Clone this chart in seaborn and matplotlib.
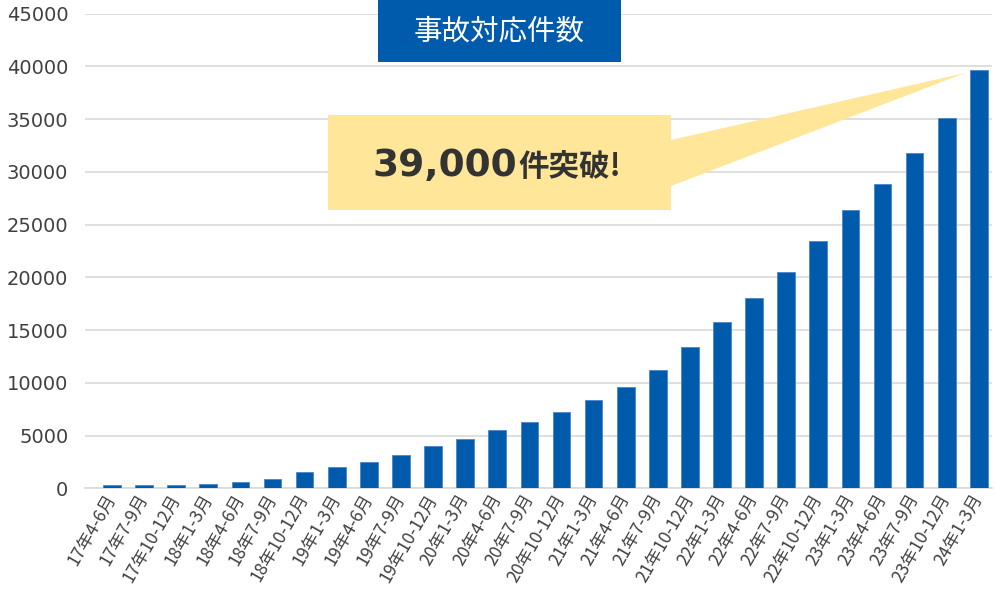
import numpy as np
import pandas as pd
import seaborn as sns
import matplotlib.pyplot as plt
from matplotlib.patches import Rectangle, Polygon

# Data
quarters = ['17年4-6月', '17年7-9月', '17年10-12月',
            '18年1-3月', '18年4-6月', '18年7-9月', '18年10-12月',
            '19年1-3月', '19年4-6月', '19年7-9月', '19年10-12月',
            '20年1-3月', '20年4-6月', '20年7-9月', '20年10-12月',
            '21年1-3月', '21年4-6月', '21年7-9月', '21年10-12月',
            '22年1-3月', '22年4-6月', '22年7-9月', '22年10-12月',
            '23年1-3月', '23年4-6月', '23年7-9月', '23年10-12月',
            '24年1-3月']
counts = [290, 290, 290,
          410, 570, 880, 1520,
          2020, 2470, 3160, 4020,
          4710, 5510, 6270, 7280,
          8390, 9630, 11180, 13430,
          15740, 18020, 20530, 23480,
          26380, 28890, 31770, 35090,
          39650]
y_ticks = [0, 5000, 10000, 15000, 20000, 25000, 30000, 35000, 40000, 45000]
title_text = '事故対応件数'
callout_num = '39,000'
callout_tail = '件突破!'

BLUE = '#005BAC'
YELLOW = '#FFE699'
GRID = '#D9D9D9'
TEXT = '#404040'
JP = ['Noto Sans CJK JP', 'DejaVu Sans']

sns.set_style('white')
plt.rcParams['font.family'] = ['DejaVu Sans', 'Noto Sans CJK JP']

df = pd.DataFrame({'quarter': quarters, 'count': counts})

W, H = 999, 592
fig = plt.figure(figsize=(W / 100, H / 100), dpi=100)
ax = fig.add_axes([85 / W, 1 - 488.3 / H, (991.7 - 85) / W, (488.3 - 13.7) / H])

sns.barplot(data=df, x='quarter', y='count', color=BLUE, saturation=1,
            width=0.55, edgecolor='#4A86C8', linewidth=0.6, ax=ax, zorder=3)

ax.set_xlim(-0.84, 27.4)
ax.set_ylim(0, 45000)
ax.set_yticks(y_ticks)
ax.set_yticklabels([str(v) for v in y_ticks], fontsize=14, color=TEXT,
                   family='DejaVu Sans')
ax.set_xticks(range(len(quarters)))
ax.set_xticklabels(quarters, rotation=60, rotation_mode='anchor',
                   ha='right', va='center', fontsize=12.5, color=TEXT,
                   family=JP)
ax.yaxis.grid(True, color=GRID, linewidth=1.2, zorder=0)
ax.set_axisbelow(True)
ax.tick_params(axis='y', length=0, pad=12)
ax.tick_params(axis='x', length=0, pad=5)
ax.set_xlabel('')
ax.set_ylabel('')
for s in ['top', 'right', 'left']:
    ax.spines[s].set_visible(False)
ax.spines['bottom'].set_color(GRID)
ax.spines['bottom'].set_linewidth(1.2)

# overlay in pixel coordinates for the title box and the callout
ov = fig.add_axes([0, 0, 1, 1], zorder=5)
ov.set_xlim(0, W)
ov.set_ylim(H, 0)
ov.axis('off')

ov.add_patch(Rectangle((378, 0), 243, 62, facecolor=BLUE, edgecolor='none'))
ov.text(499.5, 31, title_text, color='white', fontsize=20.5,
        ha='center', va='center', family=JP)

ov.add_patch(Polygon([(328, 115), (671, 115), (671, 140), (965, 73),
                      (671, 186), (671, 210), (328, 210)],
                     closed=True, facecolor=YELLOW, edgecolor='none'))
ov.text(517, 176, callout_num, color='#333333', fontsize=27,
        fontweight='bold', ha='right', va='baseline', family='DejaVu Sans')
ov.text(518, 176, callout_tail, color='#333333', fontsize=22,
        fontweight='bold', ha='left', va='baseline', family=JP)

fig.savefig('out.png', dpi=100)
